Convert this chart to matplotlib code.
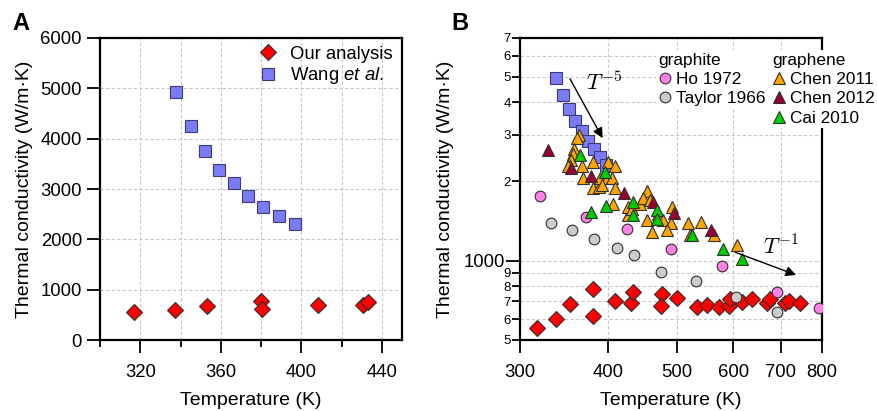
import matplotlib.pyplot as plt
from matplotlib.ticker import FixedLocator, FixedFormatter, NullLocator

plt.rcParams['font.family'] = ['Liberation Sans', 'DejaVu Sans']
plt.rcParams['mathtext.fontset'] = 'custom'
plt.rcParams['mathtext.rm'] = 'Liberation Sans'
plt.rcParams['mathtext.it'] = 'Liberation Sans:italic'

# --- data ---
# our analysis (red diamonds), temperature in K, conductivity in W/m K
our_T = [316.7, 337.2, 352.9, 380.0, 380.5, 408.5, 430.4, 432.9, 476.5, 474.6, 499.3,
         532.8, 550.5, 572.8, 590.9, 593.4, 616.5, 638.0, 669.0, 676.0, 710.0, 720.0, 745.5]
our_k = [554, 601, 683, 781, 618, 705, 689, 763, 746, 675, 720,
         669, 679, 669, 675, 714, 699, 714, 689, 714, 689, 705, 689]

# Wang et al. (blue squares)
wang_T = [337.7, 345.0, 352.2, 359.2, 366.6, 373.7, 381.0, 389.0, 397.0]
wang_k = [4934, 4252, 3762, 3384, 3113, 2855, 2643, 2464, 2305]

# graphite
ho_T = [320.0, 372.0, 424.4, 489.6, 578.2, 692.6, 792.0]
ho_k = [1767, 1471, 1317, 1108, 955, 763, 660]
taylor_T = [331.8, 355.6, 381.6, 411.2, 434.6, 474.5, 531.5, 604.8, 692.6]
taylor_k = [1396, 1309, 1213, 1121, 1049, 904, 840, 730, 641]

# graphene
chen11_T = [363.4, 361.0, 357.6, 356.0, 353.8, 353.0, 350.3, 366.6, 380.7, 368.5, 380.0,
            388.2, 388.6, 399.8, 408.5, 397.7, 404.3, 408.5, 406.3, 426.6, 425.9, 431.4,
            443.1, 453.0, 447.9, 457.8, 453.0, 460.4, 470.4, 478.0, 491.2, 489.6, 484.4,
            518.4, 539.9, 521.3, 563.5, 607.5, 391.2]
chen11_k = [3004, 2918, 2651, 2544, 2414, 2290, 2278, 2290, 2378, 2068, 1885,
            1911, 2057, 2378, 2290, 2057, 2057, 1885, 1643, 1492, 1605, 1568,
            1643, 1846, 1727, 1701, 1428, 1289, 1505, 1428, 1605, 1388, 1309,
            1395, 1400, 1253, 1253, 1150, 1929]
chen12_T = [329.0, 354.0, 377.5, 421.0, 461.8, 495.5, 558.3]
chen12_k = [2635, 2245, 2087, 1804, 1677, 1514, 1309]
cai_T = [364.6, 395.5, 377.9, 397.0, 432.7, 433.5, 468.8, 468.8, 524.0, 581.3, 616.5]
cai_k = [2508, 2161, 1536, 1619, 1677, 1492, 1559, 1441, 1249, 1112, 1013]

fs = 13.3
fs_leg = 12.4
edge = '#303030'
grid_kw = dict(color='#c8c8c8', linestyle=(0, (3, 2)), linewidth=0.8)

fig = plt.figure(figsize=(8.78, 4.11), dpi=100)
axA = fig.add_axes([100 / 878, 71 / 411, 302 / 878, 302 / 411])
axB = fig.add_axes([520 / 878, 71 / 411, 301.7 / 878, 302 / 411])

for ax in (axA, axB):
    for sp in ax.spines.values():
        sp.set_linewidth(1.6)
    ax.set_axisbelow(True)

# ---------------- panel A ----------------
axA.plot(our_T, our_k, 'D', ms=8.5, mfc='#ff0000', mec=edge, mew=0.8, label='Our analysis', zorder=4)
axA.plot(wang_T, wang_k, 's', ms=8.3, mfc='#7b7bf5', mec='#3a3a7a', mew=0.8,
         label=r'Wang $\mathit{et\ al.}$', zorder=3)
axA.set_xlim(300, 450)
axA.set_ylim(0, 6000)
axA.xaxis.set_major_locator(FixedLocator([320, 360, 400, 440]))
axA.xaxis.set_minor_locator(FixedLocator([300, 340, 380, 420]))
axA.yaxis.set_major_locator(FixedLocator([0, 1000, 2000, 3000, 4000, 5000, 6000]))
axA.tick_params(axis='x', which='major', direction='out', length=9, width=1.3, pad=8, labelsize=fs)
axA.tick_params(axis='x', which='minor', direction='out', length=5, width=1.3)
axA.tick_params(axis='y', direction='out', length=9.5, width=1.3, pad=3.5, labelsize=fs)
axA.grid(True, which='both', axis='x', **grid_kw)
axA.grid(True, which='major', axis='y', **grid_kw)
axA.set_xlabel('Temperature (K)', fontsize=14, labelpad=8)
axA.set_ylabel('Thermal conductivity (W/m·K)', fontsize=14, labelpad=5)
axA.legend(loc='upper left', bbox_to_anchor=(0.52, 0.975), frameon=False, borderpad=0,
           borderaxespad=0, handlelength=1.2, handletextpad=0.6, labelspacing=0.15, fontsize=fs)

# ---------------- panel B ----------------
axB.set_xscale('log')
axB.set_yscale('log')
axB.plot(our_T, our_k, 'D', ms=8.5, mfc='#ff0000', mec=edge, mew=0.8, zorder=3)
axB.plot(wang_T, wang_k, 's', ms=8.3, mfc='#7b7bf5', mec='#3a3a7a', mew=0.8, zorder=3)
ho, = axB.plot(ho_T, ho_k, 'o', ms=7.7, mfc='#ff80e6', mec=edge, mew=0.8, label='Ho 1972', zorder=4)
ty, = axB.plot(taylor_T, taylor_k, 'o', ms=7.7, mfc='#cccccc', mec=edge, mew=0.8, label='Taylor 1966', zorder=4)
c11, = axB.plot(chen11_T, chen11_k, '^', ms=8.5, mfc='#ffa500', mec=edge, mew=0.8, label='Chen 2011', zorder=5)
c12, = axB.plot(chen12_T, chen12_k, '^', ms=8.5, mfc='#990033', mec=edge, mew=0.8, label='Chen 2012', zorder=5)
cai, = axB.plot(cai_T, cai_k, '^', ms=8.5, mfc='#00cc00', mec=edge, mew=0.8, label='Cai 2010', zorder=5)

axB.set_xlim(300, 800)
axB.set_ylim(500, 7000)
xt = [300, 400, 500, 600, 700, 800]
axB.xaxis.set_major_locator(FixedLocator(xt))
axB.xaxis.set_major_formatter(FixedFormatter([str(v) for v in xt]))
axB.xaxis.set_minor_locator(NullLocator())
axB.yaxis.set_major_locator(FixedLocator([1000]))
axB.yaxis.set_major_formatter(FixedFormatter(['1000']))
ym = [500, 600, 700, 800, 900, 2000, 3000, 4000, 5000, 6000, 7000]
axB.yaxis.set_minor_locator(FixedLocator(ym))
axB.yaxis.set_minor_formatter(FixedFormatter(['5', '6', '7', '8', '9', '2', '3', '4', '5', '6', '7']))
axB.tick_params(axis='x', direction='out', length=9, width=1.3, pad=8, labelsize=fs)
axB.tick_params(axis='y', which='major', direction='out', length=10, width=1.3, pad=1, labelsize=fs)
axB.tick_params(axis='y', which='minor', direction='out', length=5.5, width=1.3, pad=1, labelsize=9.5)
axB.grid(True, which='major', axis='x', **grid_kw)
axB.grid(True, which='both', axis='y', **grid_kw)
axB.set_xlabel('Temperature (K)', fontsize=14, labelpad=8)
axB.set_ylabel('Thermal conductivity (W/m·K)', fontsize=14, labelpad=7)

leg_kw = dict(loc='upper left', frameon=True, facecolor='white', edgecolor='none', framealpha=1,
              borderpad=0.15, borderaxespad=0, handlelength=0.8, handletextpad=0.25,
              labelspacing=0.25, fontsize=fs_leg, title_fontsize=fs_leg, alignment='left')
leg1 = axB.legend(handles=[ho, ty], title='graphite', bbox_to_anchor=(0.45, 0.96), **leg_kw)
leg1.get_frame().set_boxstyle('square', pad=0)
axB.add_artist(leg1)
leg2 = axB.legend(handles=[c11, c12, cai], title='graphene', bbox_to_anchor=(0.828, 0.96), **leg_kw)
leg2.get_frame().set_boxstyle('square', pad=0)

arrow = dict(arrowstyle='-|>', color='black', lw=1.0, mutation_scale=15, shrinkA=0, shrinkB=0)
axB.annotate('', xy=(392.4, 2918), xytext=(352.9, 4903), arrowprops=arrow, zorder=6)
axB.text(394, 4735, r'$T^{-5}$', fontsize=16, math_fontfamily='cm', ha='center', va='center')
axB.annotate('', xy=(735.9, 883), xytext=(603.6, 1077), arrowprops=arrow, zorder=6)
axB.text(701, 1118, r'$T^{-1}$', fontsize=16, math_fontfamily='cm', ha='center', va='center')

fig.text(12 / 878, 1 - 23 / 411, 'A', fontsize=17, fontweight='bold', ha='left', va='center')
fig.text(451 / 878, 1 - 23 / 411, 'B', fontsize=17, fontweight='bold', ha='left', va='center')

fig.savefig('out.png', dpi=100)
